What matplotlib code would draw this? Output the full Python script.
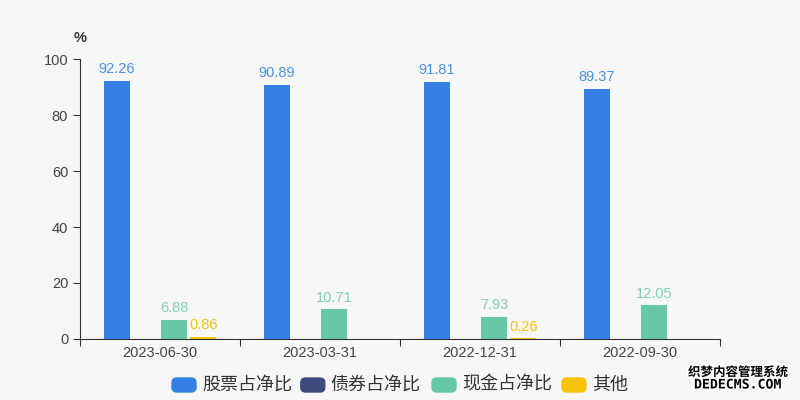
import matplotlib.pyplot as plt
import matplotlib.patheffects as pe
from matplotlib.patches import FancyBboxPatch
import numpy as np

plt.rcParams['font.family'] = ['Liberation Sans', 'Noto Sans CJK SC', 'DejaVu Sans']

dates = ['2023-06-30', '2023-03-31', '2022-12-31', '2022-09-30']
stock = [92.26, 90.89, 91.81, 89.37]
bond = [0, 0, 0, 0]
cash = [6.88, 10.71, 7.93, 12.05]
other = [0.86, 0, 0.26, 0]

series = [
    ('股票占净比', stock, '#3481e3', '#4a90e2'),
    ('债券占净比', bond, '#3d4a7e', '#3d4a7e'),
    ('现金占净比', cash, '#67c8a8', '#7fd0b4'),
    ('其他', other, '#f7c30a', '#f7c30a'),
]

bg = '#f7f7f7'
fig = plt.figure(figsize=(8, 4), dpi=100, facecolor=bg)
ax = fig.add_axes([0.1, 0.1525, 0.8, 0.7], facecolor=bg)

x = np.arange(len(dates))
step = 0.18
width = 0.1625
for i, (name, vals, color, lcolor) in enumerate(series):
    pos = x + (i - 1.5) * step
    ax.bar(pos, vals, width=width, color=color, label=name)
    for p, v in zip(pos, vals):
        if v > 0:
            ax.text(p, v + 1.6, f'{v:.2f}', ha='center', va='bottom',
                    fontsize=10.5, color=lcolor)

ax.set_xlim(-0.5, len(dates) - 0.5)
ax.set_ylim(0, 100)
ax.set_yticks(range(0, 101, 20))
ax.set_xticks(np.arange(-0.5, len(dates), 1.0))
ax.set_xticklabels([])
ax.set_xticks(x, minor=True)
ax.set_xticklabels(dates, minor=True)
ax.tick_params(axis='x', which='minor', length=0, pad=5, labelsize=10.5, labelcolor='#444444')
ax.tick_params(axis='x', which='major', length=5, color='#333333')
ax.tick_params(axis='y', length=5, color='#333333', labelsize=10.5, labelcolor='#444444')
for s in ['top', 'right']:
    ax.spines[s].set_visible(False)
for s in ['left', 'bottom']:
    ax.spines[s].set_color('#333333')

fig.text(0.1, 0.905, '%', ha='center', va='center', fontsize=10.5,
         fontweight='bold', color='#333333')

# legend with rounded patches
leg_y = 0.0375
items = [(s[0], s[2]) for s in series]
xs = [0.215, 0.376, 0.54, 0.7025]
for (name, color), lx in zip(items, xs):
    fig.patches.append(FancyBboxPatch((lx, leg_y - 0.0175), 0.03, 0.035,
                                      boxstyle='round,pad=0,rounding_size=0.006',
                                      transform=fig.transFigure, color=color,
                                      mutation_aspect=2))
    fig.text(lx + 0.0375, leg_y, name, ha='left', va='center', fontsize=13, color='#333333')

wm1 = fig.text(0.9225, 0.068, '织梦内容管理系统', ha='center', va='center',
               fontsize=9, fontweight='bold', color='black')
wm2 = fig.text(0.9225, 0.0375, 'DEDECMS.COM', ha='center', va='center',
               fontsize=9.5, fontweight='bold', color='black', family='DejaVu Sans Mono')
for wm in (wm1, wm2):
    wm.set_path_effects([pe.withStroke(linewidth=2.5, foreground='white')])

fig.savefig('out.png', dpi=100, facecolor=bg)
